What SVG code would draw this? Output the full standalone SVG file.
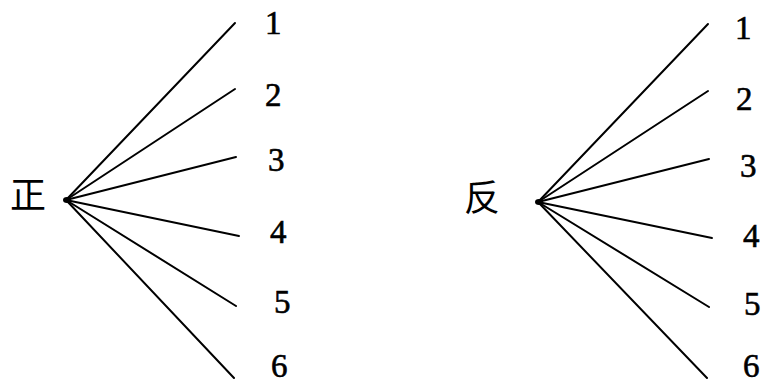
<svg xmlns="http://www.w3.org/2000/svg" width="765" height="385" viewBox="0 0 765 385">
<style>
.c{stroke:#000;stroke-width:2;fill:none;stroke-linecap:round}
.n{font-family:"Liberation Serif",serif;font-size:33px;fill:#000;stroke:#000;stroke-width:0.6}
.h{font-family:"Noto Sans CJK SC",sans-serif;font-size:36px;fill:#000}
</style>
<rect width="765" height="385" fill="#fff"/>
<g id="left-root"><text class="h" x="10" y="208">正</text><ellipse cx="67" cy="200" rx="4" ry="3" fill="#000"/></g>
<g id="left-connectors">
<line class="c" x1="66" y1="200" x2="235" y2="23"/>
<line class="c" x1="66" y1="200" x2="235" y2="89"/>
<line class="c" x1="66" y1="200" x2="236" y2="157"/>
<line class="c" x1="66" y1="200" x2="239" y2="236"/>
<line class="c" x1="66" y1="200" x2="236" y2="306"/>
<line class="c" x1="66" y1="200" x2="234" y2="378"/>
</g>
<g id="left-labels">
<text class="n" x="265" y="34">1</text>
<text class="n" x="265" y="106">2</text>
<text class="n" x="268" y="171">3</text>
<text class="n" x="270" y="243">4</text>
<text class="n" x="274" y="313">5</text>
<text class="n" x="271" y="377">6</text>
</g>
<g id="right-root"><text class="h" x="464" y="211">反</text><ellipse cx="539" cy="202" rx="4" ry="3" fill="#000"/></g>
<g id="right-connectors">
<line class="c" x1="538" y1="202" x2="708" y2="24"/>
<line class="c" x1="538" y1="202" x2="708" y2="91"/>
<line class="c" x1="538" y1="202" x2="709" y2="159"/>
<line class="c" x1="538" y1="202" x2="712" y2="238"/>
<line class="c" x1="538" y1="202" x2="709" y2="307"/>
<line class="c" x1="538" y1="202" x2="707" y2="378"/>
</g>
<g id="right-labels">
<text class="n" x="735" y="39">1</text>
<text class="n" x="736" y="110">2</text>
<text class="n" x="740" y="177">3</text>
<text class="n" x="743" y="247">4</text>
<text class="n" x="744" y="315">5</text>
<text class="n" x="743" y="377">6</text>
</g>
</svg>
